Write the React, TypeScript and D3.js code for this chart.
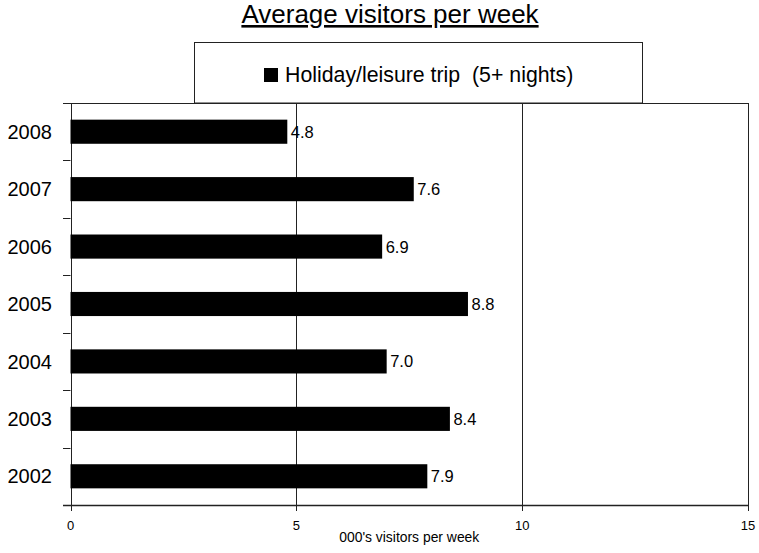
import React from "react";
import * as d3 from "d3";

const years = ["2008", "2007", "2006", "2005", "2004", "2003", "2002"];
const visitors = [4.8, 7.6, 6.9, 8.8, 7.0, 8.4, 7.9];
const xTicks = [0, 5, 10, 15];
const seriesName = "Holiday/leisure trip  (5+ nights)";
const chartTitle = "Average visitors per week";
const xAxisTitle = "000's visitors per week";

const W = 759;
const H = 553;
const plot = { left: 70.5, right: 748, top: 103, bottom: 505 };
const font = "'Liberation Sans', Arial, sans-serif";
const lineColor = "#222";

export default function App() {
  const x = d3.scaleLinear().domain([0, 15]).range([plot.left, plot.right]);
  const y = d3
    .scaleBand<string>()
    .domain(years)
    .range([plot.top, plot.bottom])
    .paddingInner(0.58)
    .paddingOuter(0.29);
  const bandEdges = d3.range(years.length + 1).map(
    (i) => plot.top + (i * (plot.bottom - plot.top)) / years.length
  );

  return (
    <svg
      width={W}
      height={H}
      style={{ position: "absolute", left: 0, top: 0, background: "#fff" }}
      fontFamily={font}
    >
      <rect x={0} y={0} width={W} height={H} fill="#fff" />
      {/* title */}
      <text
        x={390}
        y={23}
        textAnchor="middle"
        fontSize={26}
        style={{ textDecoration: "underline" }}
        fill="#000"
      >
        {chartTitle}
      </text>

      {/* legend */}
      <rect x={194.5} y={42.5} width={448} height={60.5} fill="#fff" stroke={lineColor} strokeWidth={1} />
      <rect x={264} y={68} width={14} height={14} fill="#000" />
      <text x={285} y={82} fontSize={21.3} fill="#000" style={{ whiteSpace: "pre" }}>
        {seriesName}
      </text>

      {/* gridlines */}
      {xTicks.map((t) => (
        <line
          key={"g" + t}
          x1={Math.round(x(t)) + 0.5}
          x2={Math.round(x(t)) + 0.5}
          y1={plot.top}
          y2={plot.bottom + 6}
          stroke={lineColor}
          strokeWidth={1}
        />
      ))}
      {/* horizontal border lines + category ticks */}
      {bandEdges.map((e, i) => (
        <line
          key={"t" + i}
          x1={63}
          x2={i === 0 || i === years.length ? plot.right : plot.left}
          y1={Math.round(e) + 0.5}
          y2={Math.round(e) + 0.5}
          stroke={lineColor}
          strokeWidth={i === years.length ? 1.5 : 1}
        />
      ))}

      {/* bars */}
      {years.map((yr, i) => (
        <rect
          key={yr}
          x={x(0)}
          y={y(yr)!}
          width={x(visitors[i]) - x(0)}
          height={y.bandwidth()}
          fill="#000"
        />
      ))}
      {/* value labels */}
      {years.map((yr, i) => (
        <text
          key={"v" + yr}
          x={x(visitors[i]) + 3.5}
          y={y(yr)! + y.bandwidth() / 2}
          dy="0.36em"
          fontSize={16.5}
          fill="#000"
        >
          {visitors[i].toFixed(1)}
        </text>
      ))}

      {/* y labels */}
      {years.map((yr) => (
        <text
          key={"y" + yr}
          x={52}
          y={y(yr)! + y.bandwidth() / 2}
          dy="0.36em"
          textAnchor="end"
          fontSize={20}
          fill="#000"
        >
          {yr}
        </text>
      ))}

      {/* x tick labels */}
      {xTicks.map((t) => (
        <text key={"xl" + t} x={x(t)} y={530} textAnchor="middle" fontSize={13} fill="#000">
          {t}
        </text>
      ))}
      <text x={(plot.left + plot.right) / 2} y={542} textAnchor="middle" fontSize={13.9} fill="#000">
        {xAxisTitle}
      </text>
    </svg>
  );
}
